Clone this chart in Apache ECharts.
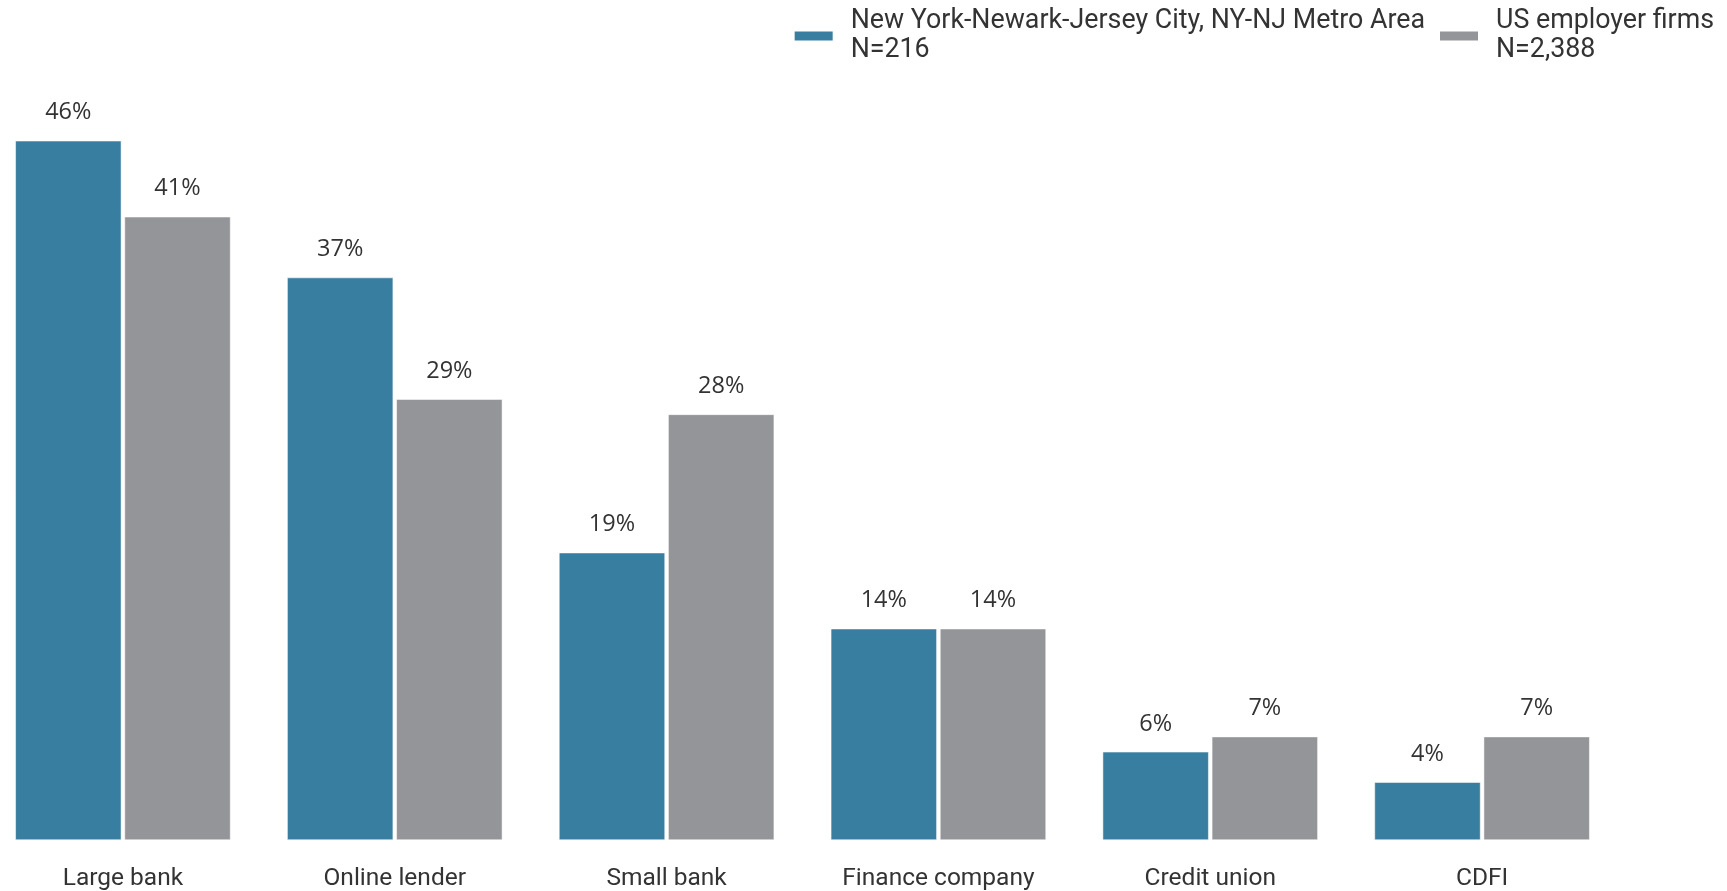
<!DOCTYPE html>
<html>
<head>
<meta charset="utf-8">
<script src="https://cdn.jsdelivr.net/npm/echarts@6/dist/echarts.min.js"></script>
<style>
html,body{margin:0;padding:0;background:#fff;overflow:hidden;}
#chart{position:absolute;left:-13px;top:0;width:1740px;height:891px;}
</style>
</head>
<body>
<div id="chart"></div>
<script>
const categories = ['Large bank', 'Online lender', 'Small bank', 'Finance company', 'Credit union', 'CDFI'];
const seriesNames = ['New York-Newark-Jersey City, NY-NJ Metro Area\nN=216', 'US employer firms\nN=2,388'];
const nyValues = [46, 37, 18.9, 13.9, 5.8, 3.8];
const usValues = [41, 29, 28, 13.9, 6.8, 6.8];

const chart = echarts.init(document.getElementById('chart'));
const labelStyle = {
  show: true,
  position: 'top',
  distance: 16,
  formatter: p => Math.round(p.value) + '%',
  fontFamily: 'Open Sans',
  fontSize: 23.5,
  color: '#333333'
};
chart.setOption({
  animation: false,
  backgroundColor: '#ffffff',
  legend: {
    right: 8,
    top: 2,
    itemWidth: 40,
    itemHeight: 11,
    itemGap: 13,
    icon: 'rect',
    textStyle: {
      fontFamily: 'Roboto',
      fontSize: 26.8,
      lineHeight: 29,
      color: '#333333',
      padding: [0, 0, 0, 12]
    },
    data: seriesNames
  },
  grid: {
    left: 0,
    right: 109,
    top: 80,
    bottom: 48,
    containLabel: false
  },
  xAxis: {
    type: 'category',
    data: categories,
    axisLine: { show: false },
    axisTick: { show: false },
    axisLabel: {
      fontFamily: 'Roboto',
      fontSize: 24.5,
      color: '#333333',
      margin: 26
    }
  },
  yAxis: {
    type: 'value',
    min: 0,
    max: 50,
    show: false,
    splitLine: { show: false }
  },
  series: [
    {
      name: seriesNames[0],
      type: 'bar',
      data: nyValues,
      barWidth: 106,
      barGap: '3%',
      itemStyle: { color: '#387ea0', borderColor: '#ffffff', borderWidth: 0.5 },
      label: labelStyle
    },
    {
      name: seriesNames[1],
      type: 'bar',
      data: usValues,
      barWidth: 106,
      barGap: '3%',
      itemStyle: { color: '#949598', borderColor: '#ffffff', borderWidth: 0.5 },
      label: labelStyle
    }
  ]
});
</script>
</body>
</html>
